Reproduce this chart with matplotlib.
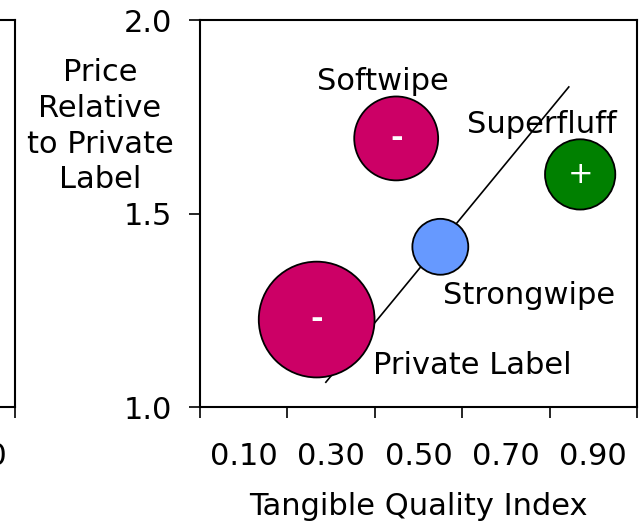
import matplotlib.pyplot as plt

# brand positions: tangible quality vs relative price
brands = ["Private Label", "Softwipe", "Strongwipe", "Superfluff"]
quality = [0.267, 0.449, 0.550, 0.870]
price = [1.226, 1.694, 1.414, 1.601]
share = [6950, 3650, 1620, 2560]
signs = ["-", "-", "", "+"]
colors = ["#CC0066", "#CC0066", "#6699FF", "#008000"]

# trend line end points
line_x = [0.288, 0.844]
line_y = [1.064, 1.827]

xtick_pos = [0.0, 0.2, 0.4, 0.6, 0.8, 1.0]
xlabels = ["0.10", "0.30", "0.50", "0.70", "0.90"]
yticks = [1.0, 1.5, 2.0]

FS = 22
plt.rcParams["font.family"] = "DejaVu Sans"

fig = plt.figure(figsize=(6.41, 5.21), dpi=100)

# bits of the neighbouring panel cut off on the left
ax0 = fig.add_axes([-0.68, 0.2188, 0.7036, 0.7428])
ax0.set_xlim(0, 1)
ax0.set_ylim(1, 2)
ax0.spines["left"].set_visible(False)
for s in ["top", "right", "bottom"]:
    ax0.spines[s].set_linewidth(1.5)
ax0.set_yticks([])
ax0.set_xticks([1.0], [""])
ax0.tick_params(axis="x", length=8, width=1.2)
fig.text(0.011, 0.123, "0.90", ha="right", va="center", fontsize=FS)

ax = fig.add_axes([0.312, 0.2188, 0.6817, 0.7428])
ax.set_xlim(0, 1)
ax.set_ylim(1, 2)
for s in ax.spines.values():
    s.set_linewidth(1.5)

ax.plot(line_x, line_y, color="black", lw=1.2, zorder=1)
ax.scatter(quality, price, s=share, c=colors, edgecolors="black",
           linewidths=1.3, zorder=2)
for x, y, sg in zip(quality, price, signs):
    if sg:
        ax.text(x, y, sg, color="white", ha="center", va="center",
                fontsize=FS, fontweight="bold" if sg == "-" else "normal",
                zorder=3)

label_pos = {
    "Softwipe": (0.419, 1.84),
    "Superfluff": (0.783, 1.73),
    "Strongwipe": (0.754, 1.288),
    "Private Label": (0.624, 1.107),
}
for name, (lx, ly) in label_pos.items():
    ax.text(lx, ly, name, ha="center", va="center", fontsize=FS)

ax.set_xticks(xtick_pos)
ax.set_xticks([0.1, 0.3, 0.5, 0.7, 0.9], xlabels, minor=True)
ax.tick_params(axis="x", which="major", length=8, width=1.2, labelbottom=False)
ax.tick_params(axis="x", which="minor", length=0, pad=25, labelsize=FS)
ax.set_yticks(yticks, ["1.0", "1.5", "2.0"])
ax.tick_params(axis="y", length=8, width=1.2, pad=12, labelsize=FS)

ax.set_xlabel("Tangible Quality Index", fontsize=FS, labelpad=15)
fig.text(0.156, 0.758, "Price\nRelative\nto Private\nLabel", ha="center",
         va="center", fontsize=FS, linespacing=1.3)

fig.savefig("out.png", dpi=100)
